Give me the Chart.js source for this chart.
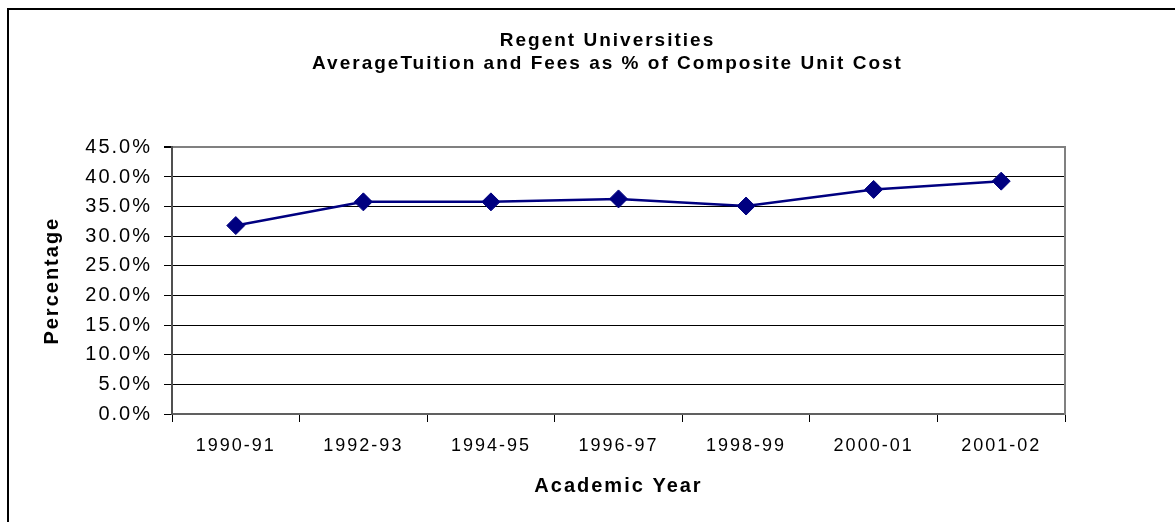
<!DOCTYPE html>
<html>
<head>
<meta charset="utf-8">
<title>Regent Universities</title>
<script src="https://cdn.jsdelivr.net/npm/chart.js@4/dist/chart.umd.min.js"></script>
<style>
  html, body { margin: 0; padding: 0; background: #fff; overflow: hidden; }
  #wrap { position: relative; width: 1175px; height: 522px; }
  #frame { position: absolute; left: 7px; top: 8px; width: 1300px; height: 700px;
           border-top: 2px solid #000; border-left: 2px solid #000; }
  #usageChart { position: absolute; left: 0; top: 0; }
</style>
</head>
<body>
<div id="wrap">
  <div id="frame"></div>
  <canvas id="usageChart" width="1175" height="522"></canvas>
</div>
<script>
// Chart data
const years = ['1990-91', '1992-93', '1994-95', '1996-97', '1998-99', '2000-01', '2001-02'];
const tuitionPct = [31.8, 35.8, 35.8, 36.3, 35.1, 37.9, 39.3];
const titleLines = ['Regent Universities', 'AverageTuition and Fees as % of Composite Unit Cost'];

// Excel-ish wide letter spacing (canvas state is reset on resize, so set it again)
const spacingPlugin = {
    id: 'spacing',
    beforeLayout(chart) { chart.ctx.letterSpacing = '2px'; },
    beforeDraw(chart) { chart.ctx.letterSpacing = '2px'; }
};

Chart.defaults.font.family = "'Liberation Sans', Arial, sans-serif";
Chart.defaults.font.size = 18;
Chart.defaults.color = '#000';

const ctx = document.getElementById('usageChart').getContext('2d');

new Chart(ctx, {
    type: 'line',
    data: {
        labels: years,
        datasets: [{
            data: tuitionPct,
            borderColor: '#000080',
            backgroundColor: '#000080',
            borderWidth: 2.5,
            pointStyle: 'rectRot',
            pointRadius: 9,
            pointBorderWidth: 1,
            tension: 0
        }]
    },
    options: {
        responsive: false,
        animation: false,
        layout: { padding: { left: 40, right: 0, top: 0, bottom: 0 } },
        plugins: {
            legend: { display: false },
            tooltip: { enabled: false },
            title: {
                display: true,
                text: titleLines,
                font: { size: 19, weight: 'bold', lineHeight: 1.22 },
                padding: { top: 29, bottom: 72 }
            }
        },
        scales: {
            x: {
                offset: true,
                grid: {
                    offset: true,
                    drawOnChartArea: false,
                    tickLength: 8,
                    tickColor: '#000'
                },
                border: { color: '#606060', width: 2 },
                ticks: { padding: 13, maxRotation: 0, font: { size: 18 } },
                title: {
                    display: true,
                    text: 'Academic Year',
                    font: { size: 20, weight: 'bold' },
                    padding: { top: 0, bottom: 24 }
                },
                afterFit(scale) { scale.height = 108; }
            },
            y: {
                min: 0,
                max: 45,
                ticks: {
                    stepSize: 5,
                    padding: 12,
                    font: { size: 20 },
                    callback: v => v.toFixed(1) + '%'
                },
                grid: {
                    color: c => c.tick && c.tick.value === 45 ? '#808080' : '#000',
                    lineWidth: c => c.tick && c.tick.value === 45 ? 2 : 1,
                    tickLength: 8,
                    tickColor: '#000'
                },
                border: { color: '#505050', width: 2 },
                title: {
                    display: true,
                    text: 'Percentage',
                    font: { size: 20, weight: 'bold' },
                    padding: { top: 0, bottom: 0 }
                },
                afterFit(scale) { scale.width = 132; }
            },
            // empty right axis: keeps the plot frame's right edge and draws it
            y2: {
                position: 'right',
                display: true,
                grid: { display: false },
                ticks: { display: false },
                border: { color: '#808080', width: 2 },
                afterFit(scale) { scale.width = 110; }
            }
        }
    },
    plugins: [spacingPlugin]
});
</script>
</body>
</html>
